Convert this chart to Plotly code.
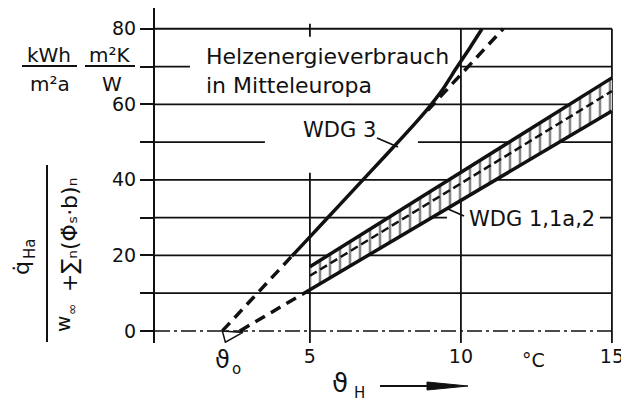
import plotly.graph_objects as go

# ---------------- data ----------------
# WDG 3 (solid curve)
wdg3_x = [4.4, 5.0, 6.0, 7.0, 8.0, 8.6, 9.0, 9.4, 9.85, 10.3, 10.7]
wdg3_y = [19.8, 24.9, 33.5, 42.1, 50.7, 56.0, 59.8, 64.0, 69.6, 75.0, 80.0]
# WDG 3 straight reference line (dashed parts)
wdg3_dash_low_x = [2.1, 4.4]
wdg3_dash_low_y = [0.0, 19.8]
wdg3_dash_high_x = [8.9, 11.4]
wdg3_dash_high_y = [58.4, 80.0]
# WDG 1,1a,2 band
band_x = [5.0, 15.0]
band_upper = [17.0, 67.0]
band_lower = [10.9, 58.2]
band_mid = [14.6, 63.5]
band_dash_x = [2.68, 5.0]
band_dash_y = [0.0, 10.9]
theta0 = 2.1

y_ticks = [0, 20, 40, 60, 80]
y_ticktext = ["0", "20", "40", "60", "80"]
y_minor = [10, 30, 50, 70]
x_ticks = [5, 10, 15]
x_ticktext = ["5", "10", "15"]

# ---------------- layout helpers ----------------
# page body has an 8px margin; positions below are in window pixels
OFF = 8
L, T, PW, PH = 155, 8, 469, 335
FW, FH = 629 - OFF, 403 - OFF

def X(px):
    return 5 + (px - 310) / 30.2

def Y(py):
    return (331 - py) / 3.775

def PX(px):
    return (px - L) / PW

def PY(py):
    return (T + PH - py) / PH

FONT = "DejaVu Sans"
BLK = "#111111"
XL = -0.13  # left edge / y-axis position

fig = go.Figure()

for xs, ys in [(wdg3_dash_low_x, wdg3_dash_low_y), (wdg3_dash_high_x, wdg3_dash_high_y)]:
    fig.add_trace(go.Scatter(x=xs, y=ys, mode="lines",
                             line=dict(color=BLK, width=3.5, dash="11px,7px"),
                             hoverinfo="skip", showlegend=False, cliponaxis=False))
fig.add_trace(go.Scatter(x=wdg3_x, y=wdg3_y, mode="lines",
                         line=dict(color=BLK, width=3.5, shape="spline", smoothing=0.8),
                         showlegend=False, cliponaxis=False))
fig.add_trace(go.Scatter(x=band_dash_x, y=band_dash_y, mode="lines",
                         line=dict(color=BLK, width=3.5, dash="11px,7px"),
                         showlegend=False, cliponaxis=False))
fig.add_trace(go.Scatter(x=band_x, y=band_lower, mode="lines",
                         line=dict(color=BLK, width=3.5), showlegend=False))
fig.add_trace(go.Scatter(x=band_x, y=band_upper, mode="lines",
                         line=dict(color=BLK, width=3.5), fill="tonexty",
                         fillcolor="white",
                         fillpattern=dict(shape="|", size=10, solidity=0.26,
                                          fgcolor=BLK, bgcolor="white"),
                         showlegend=False))
fig.add_trace(go.Scatter(x=band_x, y=band_mid, mode="lines",
                         line=dict(color=BLK, width=2.5, dash="8px,4px"),
                         showlegend=False))
fig.add_trace(go.Scatter(x=[theta0, theta0 + 0.1, band_dash_x[0] + 0.1, theta0],
                         y=[0, -3.0, -0.4, 0], mode="lines",
                         line=dict(color=BLK, width=1.5), showlegend=False,
                         cliponaxis=False))

shapes = []
def hline(y, x0, x1, dash="solid", w=1.8):
    shapes.append(dict(type="line", xref="x", yref="y", x0=x0, x1=x1, y0=y, y1=y,
                       line=dict(color=BLK, width=w, dash=dash), layer="below"))
def vline(x, y0, y1, w=1.8):
    shapes.append(dict(type="line", xref="x", yref="y", x0=x, x1=x, y0=y0, y1=y1,
                       line=dict(color=BLK, width=w), layer="below"))
def pline(a, b, c, d, w=2):
    shapes.append(dict(type="line", xref="paper", yref="paper",
                       x0=PX(a), y0=PY(b), x1=PX(c), y1=PY(d),
                       line=dict(color=BLK, width=w)))

for yv in [10, 20, 40, 60, 80]:
    hline(yv, XL, 15)
hline(30, XL, X(447)); hline(30, X(600), 15)
hline(50, XL, X(265)); hline(50, X(418), 15)
hline(70, XL, X(190)); hline(70, X(460), 15)
hline(0, XL, 15, dash="15px,4px,3px,4px", w=1.5)
vline(5, Y(173), -3.2)
vline(5, Y(24), Y(37))
vline(10, -3.2, 80)
vline(15, -3.2, 80)

# fraction bars
pline(22, 66, 77, 66)
pline(85, 66, 135, 66)
pline(47, 165, 47, 342)
# leaders
pline(377, 138, 398, 147, 1.8)
pline(448, 209, 464, 216, 1.8)
# theta_H arrow
pline(380, 386, 430, 386, 2)
shapes.append(dict(type="path", xref="paper", yref="paper",
                   path=f"M {PX(427)},{PY(382)} L {PX(468)},{PY(386)} L {PX(427)},{PY(390)} Z",
                   fillcolor=BLK, line=dict(color=BLK, width=1)))

ann = []
def txt(px, py, s, size=19, xanchor="center", angle=0):
    ann.append(dict(x=PX(px), y=PY(py), xref="paper", yref="paper", text=s, showarrow=False,
                    xanchor=xanchor, yanchor="middle", textangle=angle,
                    font=dict(family=FONT, size=size, color=BLK)))

txt(204, 56, "Helzenergieverbrauch", 22, "left")
txt(204, 85, "in Mitteleuropa", 22, "left")
txt(339, 130, "WDG 3", 21)
txt(467, 219, "WDG 1,1a,2", 21, "left")
txt(49, 55, "kWh", 20)
txt(50, 84, "m²a", 20)
txt(110, 55, "m²K", 20)
txt(112, 84, "W", 20)
# rotated y label: numerator
txt(21, 268, "q̇", 22, angle=-90)
txt(30, 249, "Ha", 15, angle=-90)
# rotated y label: denominator
txt(63, 324, "w", 20, angle=-90)
txt(72, 309, "∞", 14, angle=-90)
txt(69, 235, "+∑ₙ(Φ̇ₛ·b)ₙ", 22, angle=-90)
# x axis extra labels
txt(222, 360, "ϑ", 24)
txt(236, 369, "o", 15)
txt(533, 360, "°C", 19)
txt(340, 383, "ϑ", 26)
txt(359, 393, "H", 15)

fig.update_layout(
    width=FW, height=FH,
    margin=dict(l=L - OFF, r=FW - (L - OFF) - PW, t=T - OFF, b=FH - (T - OFF) - PH),
    paper_bgcolor="white", plot_bgcolor="white",
    shapes=shapes, annotations=ann, showlegend=False,
    xaxis=dict(range=[XL, 15.4], showgrid=False, zeroline=False, showline=False,
               tickvals=x_ticks, ticktext=x_ticktext, ticks="",
               tickfont=dict(family=FONT, size=19, color=BLK), automargin=False),
    yaxis=dict(range=[-3.2, 85.5], showgrid=False, zeroline=False, showline=True,
               linecolor=BLK, linewidth=2, ticks="outside", ticklen=13, tickwidth=2,
               tickcolor=BLK, tickvals=y_ticks, ticktext=y_ticktext,
               minor=dict(tickvals=y_minor, ticks="outside", ticklen=13, tickwidth=2,
                          tickcolor=BLK, showgrid=False),
               tickfont=dict(family=FONT, size=19, color=BLK), automargin=False),
)

fig.write_html("out.html", config={"displayModeBar": False})
